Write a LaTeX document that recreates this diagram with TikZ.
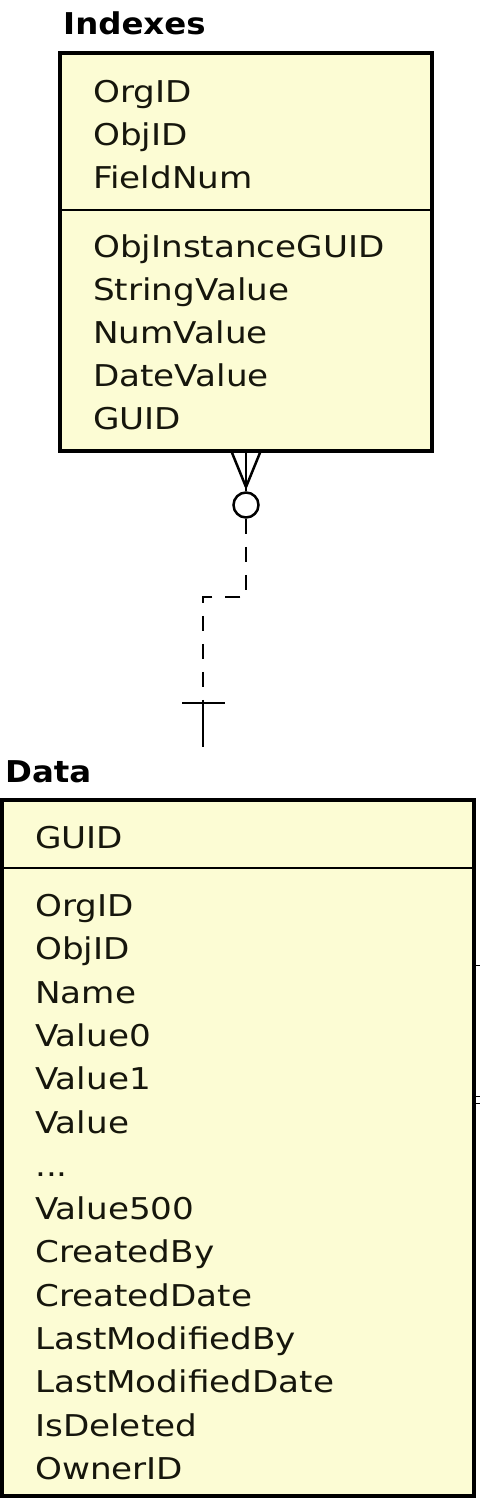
\documentclass[tikz,border=0pt]{standalone}
\usepackage{fontspec}
\setmainfont{DejaVu Sans}
\newfontfamily\fieldfont[FakeStretch=1.14]{DejaVu Sans}
\newfontfamily\titlefont[FakeStretch=1.08]{DejaVu Sans}
\definecolor{boxfill}{RGB}{252,252,212}
\definecolor{txt}{RGB}{22,22,12}
\newcommand\mydots{...}
\tikzset{
  x=1pt, y=-1pt,
  tbl/.style={draw=black, line width=3.5pt, fill=boxfill, inner sep=0pt},
  sep/.style={line width=2.5pt},
  fld/.style={anchor=base west, inner sep=0pt, font=\fieldfont\fontsize{30}{30}\selectfont, text=txt},
  ttl/.style={anchor=base west, inner sep=0pt, font=\titlefont\fontsize{30}{30}\selectfont\bfseries},
  conn/.style={line width=2.5pt},
  dashconn/.style={line width=2.5pt, dash pattern=on 15pt off 13pt},
}
\begin{document}
\begin{tikzpicture}
\useasboundingbox (0,0) rectangle (480,1504);
% Indexes table
\node[ttl] (ti) at (63,35) {Indexes};
\node[tbl, minimum width=372pt, minimum height=398pt] (idx) at (246,252) {};
\draw[sep] (idx.west |- 0,210) coordinate (s1a) -- (idx.east |- 0,210) coordinate (s1b);
\foreach \t/\y [count=\i] in {OrgID/102, ObjID/145, FieldNum/188, ObjInstanceGUID/257, StringValue/300, NumValue/343, DateValue/386, GUID/429}
  \node[fld] (i\i) at (93,\y) {\t};
% Data table
\node[ttl] (td) at (5,782) {Data};
\node[tbl, minimum width=472pt, minimum height=696pt] (dat) at (238,1148) {};
\draw[sep] (dat.west |- 0,868) coordinate (s2a) -- (dat.east |- 0,868) coordinate (s2b);
\foreach \t/\y [count=\i] in {GUID/848, OrgID/916, ObjID/959, Name/1003, Value0/1046, Value1/1089, Value/1133, \mydots/1176, Value500/1219, CreatedBy/1262, CreatedDate/1306, LastModifiedBy/1349, LastModifiedDate/1392, IsDeleted/1436, OwnerID/1479}
  \node[fld] (d\i) at (35,\y) {\t};
% stubs at right edge of Data
\draw[line width=1pt] (dat.east |- 0,965) -- (480,965);
\draw[line width=1pt] (dat.east |- 0,1096) -- (480,1096);
\draw[line width=1pt] (dat.east |- 0,1103) -- (480,1103);
% connector
\coordinate (cf) at (246,487);
\node[draw, circle, conn, minimum size=25pt, inner sep=0pt] (ring) at (246,505) {};
\draw[conn] (idx.south -| 232,0) -- (cf);
\draw[conn] (idx.south -| 260,0) -- (cf);
\draw[conn] (idx.south -| 246,0) -- (ring.north);
\coordinate (bend1) at (246,597);
\coordinate (bend2) at (203,597);
\coordinate (bar) at (203,703);
\coordinate (tip) at (203,747);
\draw[dashconn] (ring.south) -- (bend1) -- (bend2) -- (bar);
\draw[conn] (bar) -- (tip);
\draw[conn] (182,703) -- (225,703);
\end{tikzpicture}
\end{document}
